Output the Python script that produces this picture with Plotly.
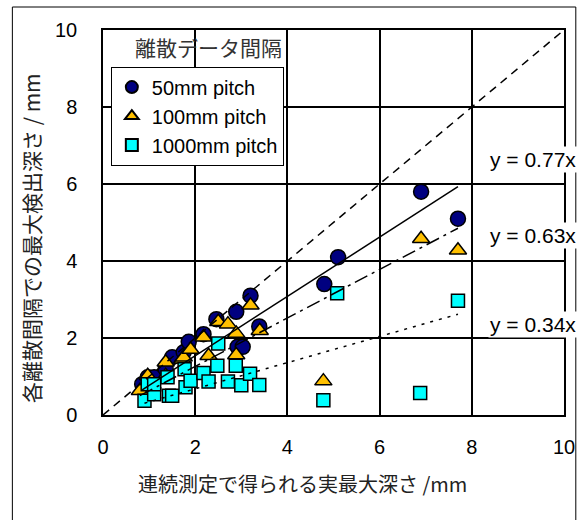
import plotly.graph_objects as go

# 50mm pitch: (actual max depth, detected max depth)
pitch50_x = [0.85, 0.97, 1.11, 1.36, 1.50, 1.75, 1.86, 2.18, 2.46, 2.89, 3.20, 2.92, 3.03, 3.39, 4.80, 5.10, 6.90, 7.70]
pitch50_y = [0.80, 0.98, 0.98, 1.19, 1.50, 1.63, 1.90, 2.10, 2.49, 2.68, 3.10, 1.77, 1.77, 2.30, 3.40, 4.10, 5.80, 5.10]

# 100mm pitch
pitch100_x = [0.80, 0.97, 1.36, 1.36, 1.72, 1.75, 1.90, 2.18, 2.29, 2.50, 2.71, 2.89, 2.89, 3.20, 3.40, 4.78, 6.90, 7.70]
pitch100_y = [0.63, 1.02, 1.02, 1.37, 1.45, 1.50, 1.70, 2.02, 1.54, 2.42, 2.36, 2.12, 1.56, 2.85, 2.19, 0.88, 4.58, 4.28]

# 1000mm pitch
pitch1000_x = [0.90, 0.97, 1.11, 1.11, 1.40, 1.43, 1.50, 1.77, 1.79, 1.90, 2.18, 2.29, 2.50, 2.48, 2.71, 2.88, 3.00, 3.19, 3.39, 4.78, 5.08, 6.88, 7.70]
pitch1000_y = [0.37, 0.80, 0.54, 0.80, 0.98, 0.50, 0.50, 1.19, 0.72, 0.89, 1.09, 0.87, 1.86, 1.28, 0.87, 1.28, 0.77, 1.07, 0.78, 0.38, 3.16, 0.57, 2.97]

# slopes of the regression lines through the origin
slopes = [0.77, 0.63, 0.34]
slope_labels = ["y = 0.77x", "y = 0.63x", "y = 0.34x"]

# 1:1 reference line
ref_x = [0, 10]
ref_y = [0, 10]

x_ticks = [0, 2, 4, 6, 8, 10]
y_ticks = [0, 2, 4, 6, 8, 10]

series_names = ["50mm pitch", "100mm pitch", "1000mm pitch"]

JP = "Noto Sans CJK JP, sans-serif"
NUM = "Liberation Sans, Arial, sans-serif"

fig = go.Figure()

series = [
    (pitch50_x, pitch50_y, "circle", "#000080", 15),
    (pitch100_x, pitch100_y, "triangle-up", "#FFC000", 15),
    (pitch1000_x, pitch1000_y, "square", "#00FFFF", 13),
]
for i, ((xs, ys, sym, col, sz), name) in enumerate(zip(series, series_names)):
    fig.add_trace(go.Scatter(
        x=xs, y=ys, mode="markers", name=name, legendgroup=f"g{i}",
        marker=dict(symbol=sym, color=col, size=sz,
                    line=dict(color="black", width=1.5)),
    ))

# 1:1 line
fig.add_trace(go.Scatter(
    x=ref_x, y=ref_y, mode="lines", showlegend=False, hoverinfo="skip",
    line=dict(color="black", width=1.5, dash="8px,6px"),
))

# fitted lines spanning each series' x range
dashes = ["solid", "14px,5px,3px,5px", "3px,6px"]
for (xs, ys, *_), k, d in zip(series, slopes, dashes):
    x0, x1 = min(xs), max(xs)
    fig.add_trace(go.Scatter(
        x=[x0, x1], y=[k * x0, k * x1], mode="lines", showlegend=False,
        hoverinfo="skip", line=dict(color="black", width=1.5, dash=d),
    ))

# equation labels at the right edge
label_y = [6.64, 4.65, 2.35]
for txt, yy in zip(slope_labels, label_y):
    fig.add_annotation(
        x=9.33, y=yy, xref="x", yref="y", xanchor="center", text=txt,
        showarrow=False, font=dict(family=NUM, size=21, color="black"),
        bgcolor="white", borderpad=1,
    )

# legend heading
fig.add_annotation(
    x=0.228, y=0.955, xref="paper", yref="paper", text="離散データ間隔",
    showarrow=False, xanchor="center", yanchor="middle",
    font=dict(family=JP, size=21, color="#333"),
)

# axis titles
fig.add_annotation(
    x=0.432, y=-0.177, xref="paper", yref="paper",
    text="連続測定で得られる実最大深さ /mm", showarrow=False,
    xanchor="center", yanchor="middle",
    font=dict(family=JP, size=20, color="#222"),
)
fig.add_annotation(
    x=-0.156, y=0.46, xref="paper", yref="paper", textangle=-90,
    text="各離散間隔での最大検出深さ / mm", showarrow=False,
    xanchor="center", yanchor="middle",
    font=dict(family=JP, size=21, color="#222"),
)

# outer frame around the whole chart
fig.add_shape(
    type="rect", xref="paper", yref="paper",
    x0=-0.1966, x1=1.0256, y0=-0.30, y1=1.0597,
    line=dict(color="black", width=1), fillcolor="rgba(0,0,0,0)", layer="below",
)

axis_common = dict(
    range=[0, 10], showgrid=True, gridcolor="black", gridwidth=1.5,
    showline=True, linecolor="black", linewidth=1.5, mirror=True,
    zeroline=False, ticks="", tickfont=dict(family=NUM, size=20, color="black"),
)

fig.update_layout(
    width=587, height=520,
    margin=dict(l=103, r=16, t=30, b=105),
    paper_bgcolor="white", plot_bgcolor="white",
    xaxis=dict(**axis_common, tickvals=x_ticks, ticklabelstandoff=13),
    yaxis=dict(**axis_common, tickvals=y_ticks, ticklabelstandoff=20),
    legend=dict(
        x=0.017, y=0.905, xanchor="left", yanchor="top",
        bgcolor="white", bordercolor="black", borderwidth=1,
        font=dict(family=NUM, size=20, color="black"),
        itemwidth=30, itemsizing="constant", tracegroupgap=0,
    ),
    showlegend=True,
)

fig.write_html("out.html")
